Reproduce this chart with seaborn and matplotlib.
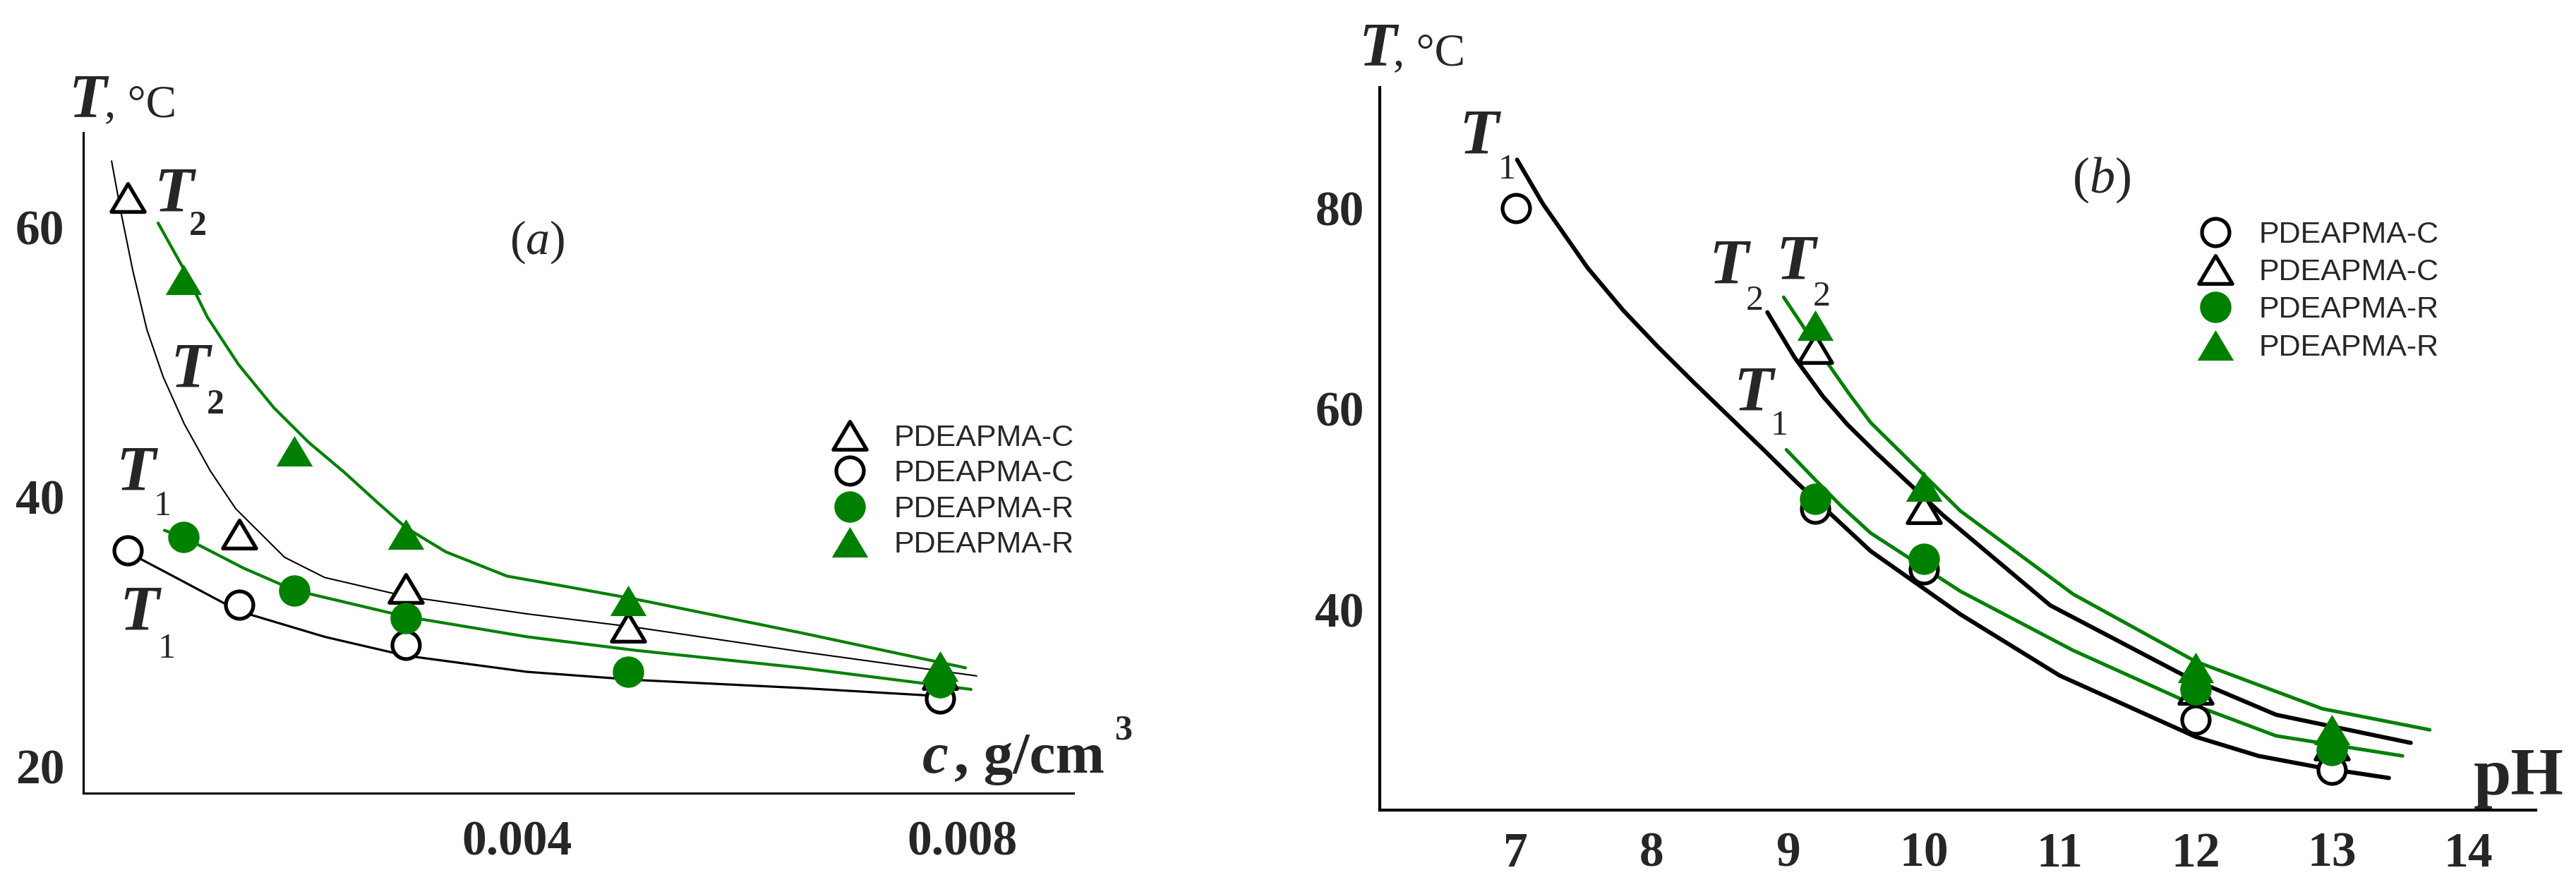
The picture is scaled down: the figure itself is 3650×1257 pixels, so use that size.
import seaborn as sns
import matplotlib.pyplot as plt
from matplotlib.lines import Line2D
from matplotlib.path import Path

GREEN = '#008000'

# ---- panel (a): transition temperatures vs concentration ----
a_xticks = [0.004, 0.008]
a_xticklabels = ['0.004', '0.008']
a_yticks = [20, 40, 60]

a_c_t2_x = [0.0005, 0.0015, 0.003, 0.005, 0.0078]
a_c_t2_y = [62.2, 37.2, 33.2, 30.3, 26.8]
a_c_t1_x = [0.0005, 0.0015, 0.003, 0.0078]
a_c_t1_y = [36.0, 32.0, 29.0, 25.0]
a_r_t1_x = [0.001, 0.002, 0.003, 0.005, 0.0078]
a_r_t1_y = [37.0, 33.0, 31.0, 27.0, 26.2]
a_r_t2_x = [0.001, 0.002, 0.003, 0.005, 0.0078]
a_r_t2_y = [56.1, 43.4, 37.2, 32.3, 27.4]

# fitted curves
a_fit_c_t2_x = [0.000355, 0.000437, 0.000545, 0.000672, 0.000818, 0.001008, 0.001243,
                0.001471, 0.00191, 0.00227, 0.0030, 0.00409, 0.00507, 0.00655, 0.00813]
a_fit_c_t2_y = [64.9, 61.2, 56.8, 52.4, 48.9, 45.4, 41.9, 39.1, 35.5, 34.0, 32.6, 31.3,
                30.3, 28.5, 26.7]
a_fit_r_t2_x = [0.000773, 0.000989, 0.001217, 0.001496, 0.001813, 0.00213, 0.002447,
                0.00274, 0.003, 0.00336, 0.00391, 0.00446, 0.00506, 0.00655, 0.00803]
a_fit_r_t2_y = [60.3, 57.1, 53.3, 49.8, 46.6, 44.0, 41.8, 39.6, 37.7, 35.9, 34.1, 33.3,
                32.4, 29.9, 27.3]
a_fit_r_t1_x = [0.00083, 0.001, 0.00154, 0.002, 0.003, 0.00409, 0.00506, 0.00655, 0.00808]
a_fit_r_t1_y = [37.5, 37.0, 34.7, 33.05, 31.1, 29.6, 28.6, 27.3, 25.7]
a_fit_c_t1_x = [0.00061, 0.001, 0.0015, 0.00227, 0.003, 0.00409, 0.00507, 0.00655, 0.0078]
a_fit_c_t1_y = [35.4, 33.7, 31.5, 29.6, 28.2, 27.0, 26.4, 25.8, 25.2]

# ---- panel (b): transition temperatures vs pH ----
b_xticks = [7, 8, 9, 10, 11, 12, 13, 14]
b_yticks = [40, 60, 80]

b_c_t1_x = [7, 9.2, 10, 12, 13]
b_c_t1_y = [80, 50, 44, 29, 24]
b_c_t2_x = [9.2, 10, 12, 13]
b_c_t2_y = [66, 50, 32, 26.5]
b_r_t1_x = [9.2, 10, 12, 13]
b_r_t1_y = [51, 45, 32, 26]
b_r_t2_x = [9.2, 10, 12, 13]
b_r_t2_y = [68.3, 52.3, 34.2, 28]

b_fit_c_t1_x = [7.01, 7.20, 7.36, 7.53, 7.79, 8.05, 8.31, 8.57, 8.83, 9.07, 9.61, 10.27,
                11.0, 12.0, 12.46, 12.93, 13.42]
b_fit_c_t1_y = [84.8, 80.4, 77.3, 74.0, 69.8, 66.1, 62.6, 59.2, 55.8, 52.6, 45.8, 39.5,
                33.4, 27.3, 25.4, 24.2, 23.2]
b_fit_r_t1_x = [8.99, 9.21, 9.40, 9.61, 10.27, 11.1, 12.0, 12.59, 13.52]
b_fit_r_t1_y = [55.9, 52.8, 50.2, 47.6, 41.8, 35.9, 30.4, 27.4, 25.4]
b_fit_c_t2_x = [8.85, 9.05, 9.26, 9.44, 9.65, 10.14, 10.93, 11.93, 12.59, 13.58]
b_fit_c_t2_y = [69.6, 65.1, 61.2, 58.4, 55.6, 49.4, 40.4, 33.3, 29.5, 26.7]
b_fit_r_t2_x = [8.97, 9.30, 9.45, 9.61, 10.27, 11.1, 12.0, 12.93, 13.72]
b_fit_r_t2_y = [71.1, 64.4, 61.5, 58.6, 49.8, 41.5, 34.8, 30.1, 28.0]

legend_labels_a = ['PDEAPMA-C', 'PDEAPMA-C', 'PDEAPMA-R', 'PDEAPMA-R']
legend_labels_b = ['PDEAPMA-C', 'PDEAPMA-C', 'PDEAPMA-R', 'PDEAPMA-R']

sns.set_theme(style='white')
plt.rcParams['font.family'] = ['Liberation Serif', 'DejaVu Sans']
plt.rcParams['mathtext.fontset'] = 'custom'
plt.rcParams['mathtext.rm'] = 'Liberation Serif'
plt.rcParams['mathtext.it'] = 'Liberation Serif:italic'
plt.rcParams['mathtext.bf'] = 'Liberation Serif:bold'

fig = plt.figure(figsize=(36.5, 12.57), dpi=100)
ax_a = fig.add_axes([0.0323, 0.1058, 0.3844, 0.7446])
ax_b = fig.add_axes([0.5356, 0.0867, 0.4488, 0.8147])

# marker sizes in points; a slightly flattened, closed triangle
MS_OC, MS_GC, MS_OT, MS_GT, MEW = 28, 32, 34, 37, 3.8
TRI = Path([(-1, -0.84), (1, -0.84), (0, 0.84), (0, 0)],
           [Path.MOVETO, Path.LINETO, Path.LINETO, Path.CLOSEPOLY])


def pts(ax, x, y, kind):
    if kind == 'gc':
        sns.scatterplot(x=x, y=y, ax=ax, marker='o', s=MS_GC ** 2, color=GREEN,
                        edgecolor=GREEN, linewidth=0, zorder=5)
    elif kind == 'gt':
        sns.scatterplot(x=x, y=y, ax=ax, marker=TRI, s=MS_GT ** 2, color=GREEN,
                        edgecolor=GREEN, linewidth=0, zorder=5)
    elif kind == 'oc':
        sns.scatterplot(x=x, y=y, ax=ax, marker='o', s=MS_OC ** 2, color='white',
                        edgecolor='black', linewidth=MEW, zorder=4)
    else:
        sns.scatterplot(x=x, y=y, ax=ax, marker=TRI, s=MS_OT ** 2, color='white',
                        edgecolor='black', linewidth=MEW, zorder=4)


def curve(ax, x, y, color, lw):
    sns.lineplot(x=x, y=y, ax=ax, color=color, linewidth=lw, estimator=None,
                 sort=False, zorder=3, solid_capstyle='round', solid_joinstyle='round')


def tlabel(ax, fx, fy, sub, sx, sy, weight):
    ax.text(fx, fy, 'T', transform=ax.transAxes, fontsize=66, fontweight='bold',
            fontstyle='italic', ha='left', va='baseline')
    ax.text(sx, sy, sub, transform=ax.transAxes, fontsize=36, fontweight=weight,
            ha='left', va='baseline')


def handles(order):
    spec = {
        'ot': dict(marker=TRI, ms=MS_OT, mfc='white', mec='black', mew=MEW),
        'oc': dict(marker='o', ms=MS_OC, mfc='white', mec='black', mew=MEW),
        'gc': dict(marker='o', ms=MS_GC, mfc=GREEN, mec=GREEN, mew=0),
        'gt': dict(marker=TRI, ms=MS_GT, mfc=GREEN, mec=GREEN, mew=0),
    }
    return [Line2D([], [], ls='none', **spec[k]) for k in order]


def style_axes(ax, lw, labelsize, ylen, xpad, ypad):
    ax.tick_params(direction='in', length=ylen, width=lw, labelsize=labelsize, color='black')
    ax.tick_params(axis='y', pad=ypad)
    ax.tick_params(axis='x', pad=xpad)
    for lab in ax.get_xticklabels() + ax.get_yticklabels():
        lab.set_fontweight('bold')
    sns.despine(ax=ax)
    for s in ['left', 'bottom']:
        ax.spines[s].set_linewidth(lw)
        ax.spines[s].set_color('black')
    ax.set_xlabel('')
    ax.set_ylabel('')


# ---------------- panel (a) ----------------
curve(ax_a, a_fit_c_t2_x, a_fit_c_t2_y, 'black', 1.5)
curve(ax_a, a_fit_c_t1_x, a_fit_c_t1_y, 'black', 2.3)
curve(ax_a, a_fit_r_t2_x, a_fit_r_t2_y, GREEN, 3.0)
curve(ax_a, a_fit_r_t1_x, a_fit_r_t1_y, GREEN, 3.0)
pts(ax_a, a_c_t2_x, a_c_t2_y, 'ot')
pts(ax_a, a_c_t1_x, a_c_t1_y, 'oc')
pts(ax_a, a_r_t1_x, a_r_t1_y, 'gc')
pts(ax_a, a_r_t2_x, a_r_t2_y, 'gt')

ax_a.set_xlim(0.0001, 0.009)
ax_a.set_ylim(18, 67)
ax_a.set_xticks(a_xticks)
ax_a.set_xticklabels(a_xticklabels)
ax_a.set_yticks(a_yticks)
style_axes(ax_a, 2.2, 50, 12, 28, 19)

ax_a.text(-0.0143, 1.0246, 'T', transform=ax_a.transAxes, fontsize=63, fontweight='bold',
          fontstyle='italic', ha='left', va='baseline')
ax_a.text(0.0214, 1.0246, ', °C', transform=ax_a.transAxes, fontsize=47, ha='left', va='baseline')
ax_a.text(0.8475, 0.031, 'c', transform=ax_a.transAxes, fontsize=60, fontweight='bold',
          fontstyle='italic', ha='left', va='baseline')
ax_a.text(0.8795, 0.031, ', g/cm', transform=ax_a.transAxes, fontsize=60, fontweight='bold',
          ha='left', va='baseline')
ax_a.text(1.042, 0.082, '3', transform=ax_a.transAxes, fontsize=36, fontweight='bold',
          ha='left', va='baseline')
ax_a.text(0.4583, 0.8344, r'($\mathit{a}$)', transform=ax_a.transAxes, fontsize=49,
          ha='center', va='center')

tlabel(ax_a, 0.0713, 0.8803, '2', 0.1068, 0.845, 'bold')
tlabel(ax_a, 0.0877, 0.6143, '2', 0.1246, 0.5748, 'bold')
tlabel(ax_a, 0.0328, 0.4583, '1', 0.0711, 0.421, 'normal')
tlabel(ax_a, 0.0364, 0.2468, '1', 0.0754, 0.2051, 'normal')

ax_a.legend(handles(['ot', 'oc', 'gc', 'gt']), legend_labels_a, loc='upper left',
            bbox_to_anchor=(0.324, 0.5219), bbox_transform=fig.transFigure, frameon=False,
            prop={'family': 'Liberation Sans', 'size': 31}, handlelength=1.0,
            handletextpad=0.94, labelspacing=0.243, borderpad=0, borderaxespad=0)

# ---------------- panel (b) ----------------
curve(ax_b, b_fit_c_t1_x, b_fit_c_t1_y, 'black', 4.3)
curve(ax_b, b_fit_c_t2_x, b_fit_c_t2_y, 'black', 4.3)
curve(ax_b, b_fit_r_t1_x, b_fit_r_t1_y, GREEN, 3.6)
curve(ax_b, b_fit_r_t2_x, b_fit_r_t2_y, GREEN, 3.6)
pts(ax_b, b_c_t1_x, b_c_t1_y, 'oc')
pts(ax_b, b_c_t2_x, b_c_t2_y, 'ot')
pts(ax_b, b_r_t1_x, b_r_t1_y, 'gc')
pts(ax_b, b_r_t2_x, b_r_t2_y, 'gt')

ax_b.set_xlim(6, 14.5)
ax_b.set_ylim(20, 92)
ax_b.set_xticks(b_xticks)
ax_b.set_yticks(b_yticks)
style_axes(ax_b, 3, 50, 13, 22, 16)

ax_b.text(-0.0177, 1.0313, 'T', transform=ax_b.transAxes, fontsize=63, fontweight='bold',
          fontstyle='italic', ha='left', va='baseline')
ax_b.text(0.0116, 1.0313, ', °C', transform=ax_b.transAxes, fontsize=47, ha='left', va='baseline')
ax_b.text(0.9463, 0.0215, 'pH', transform=ax_b.transAxes, fontsize=69, fontweight='bold',
          ha='left', va='baseline')
ax_b.text(0.6245, 0.872, r'($\mathit{b}$)', transform=ax_b.transAxes, fontsize=52,
          ha='center', va='center')

tlabel(ax_b, 0.0684, 0.9082, '1', 0.1024, 0.874, 'normal')
tlabel(ax_b, 0.2845, 0.7285, '2', 0.3166, 0.6924, 'normal')
tlabel(ax_b, 0.3425, 0.7344, '2', 0.3746, 0.6982, 'normal')
tlabel(ax_b, 0.3059, 0.5527, '1', 0.3380, 0.5195, 'normal')

ax_b.legend(handles(['oc', 'ot', 'gc', 'gt']), legend_labels_b, loc='upper left',
            bbox_to_anchor=(0.8541, 0.7513), bbox_transform=fig.transFigure, frameon=False,
            prop={'family': 'Liberation Sans', 'size': 31}, handlelength=1.0,
            handletextpad=0.94, labelspacing=0.31, borderpad=0, borderaxespad=0)

fig.savefig('out.png', dpi=100, facecolor='white')
